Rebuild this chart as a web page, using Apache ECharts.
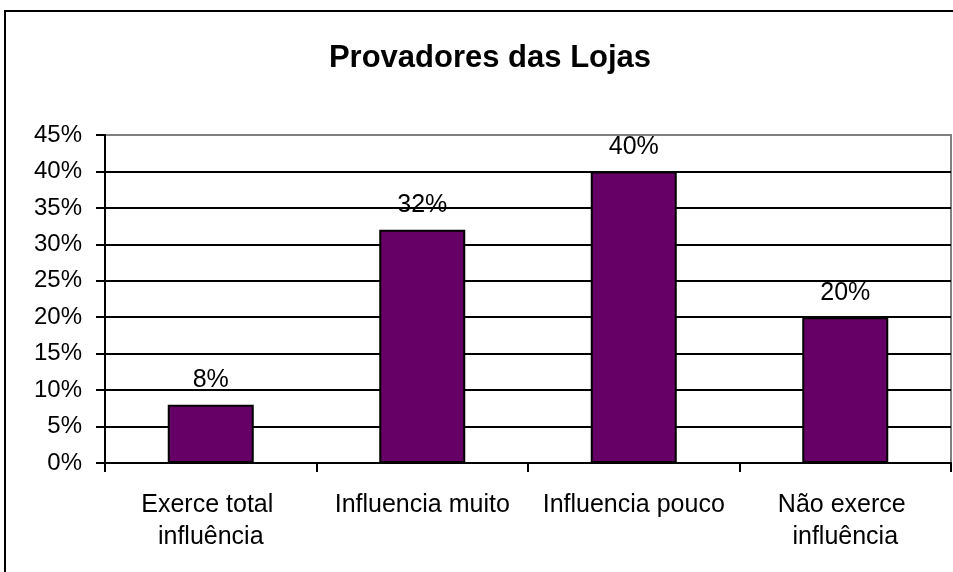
<!DOCTYPE html>
<html>
<head>
<meta charset="utf-8">
<script src="https://cdn.jsdelivr.net/npm/echarts@6/dist/echarts.min.js"></script>
<style>
  html, body { margin: 0; padding: 0; background: #fff; }
  #chart { width: 953px; height: 572px; }
</style>
</head>
<body>
<div id="chart"></div>
<script>
// chart data
const categories = ['Exerce total influência', 'Influencia muito', 'Influencia pouco', 'Não exerce influência'];
const values = [8, 32, 40, 20];
const yTicks = { min: 0, max: 45, interval: 5 };

const font = "'Liberation Sans', Arial, sans-serif";
const chart = echarts.init(document.getElementById('chart'));

const option = {
    animation: false,
    backgroundColor: '#ffffff',
    title: {
        text: 'Provadores das Lojas',
        left: 485,
        top: 38,
        textAlign: 'center',
        textStyle: {
            fontFamily: font,
            fontSize: 31,
            fontWeight: 'bold',
            color: '#000'
        }
    },
    // outer frame of the chart (runs off the right/bottom edge)
    graphic: [{
        type: 'rect',
        shape: { x: 5, y: 11, width: 1000, height: 620 },
        style: { fill: 'none', stroke: '#000', lineWidth: 2 },
        silent: true
    }],
    grid: {
        left: 105,
        right: 2,
        top: 135,
        bottom: 109,
        show: true,
        borderColor: '#808080',
        borderWidth: 2,
        backgroundColor: 'transparent'
    },
    xAxis: {
        type: 'category',
        data: categories,
        axisLine: { lineStyle: { color: '#000', width: 2 } },
        axisTick: { show: true, length: 9, lineStyle: { color: '#000', width: 2 } },
        axisLabel: {
            fontFamily: font,
            fontSize: 25,
            color: '#000',
            margin: 26,
            lineHeight: 32,
            width: 195,
            overflow: 'break',
            interval: 0
        },
        splitLine: { show: false }
    },
    yAxis: {
        type: 'value',
        min: yTicks.min,
        max: yTicks.max,
        interval: yTicks.interval,
        axisLine: { show: true, lineStyle: { color: '#000', width: 2 } },
        axisTick: { show: true, length: 9, lineStyle: { color: '#000', width: 2 } },
        axisLabel: {
            fontFamily: font,
            fontSize: 24,
            color: '#000',
            margin: 23,
            formatter: '{value}%'
        },
        splitLine: {
            show: true,
            showMaxLine: false,
            lineStyle: { color: '#000', width: 2 }
        }
    },
    series: [{
        type: 'bar',
        data: values,
        barWidth: 86,
        itemStyle: {
            color: '#660066',
            borderColor: '#000',
            borderWidth: 2
        },
        label: {
            show: true,
            position: 'top',
            distance: 12,
            formatter: '{c}%',
            fontFamily: font,
            fontSize: 25,
            color: '#000'
        }
    }]
};

chart.setOption(option);
</script>
</body>
</html>
